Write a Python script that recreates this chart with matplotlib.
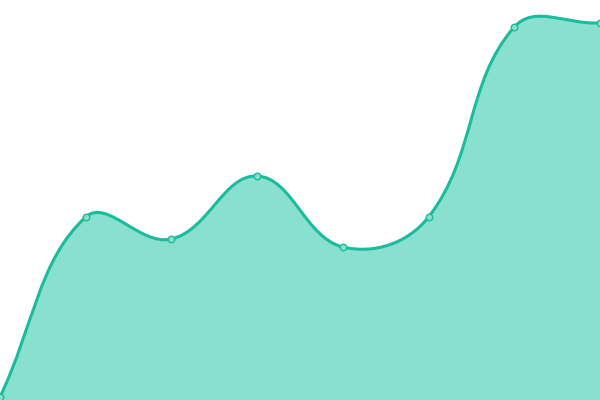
import numpy as np
import matplotlib
matplotlib.use("Agg")
import matplotlib.pyplot as plt
from matplotlib.path import Path
from matplotlib.patches import PathPatch

labels = ["A", "B", "C", "D", "E", "F", "G", "H"]
values = [3, 183, 161, 224, 153, 183, 373, 377]

line_color = "#1abc9c"
fill_color = "#8ae0cf"

W, H = 600, 400
tension = 0.4

# pixel-space points for control point math
n = len(values)
xs = np.arange(n) * W / (n - 1)
ys = np.array(values, dtype=float)


def spline_ctrl(i):
    # chart.js style cardinal spline control points
    p = np.array([xs[i], ys[i]])
    prev = np.array([xs[max(i - 1, 0)], ys[max(i - 1, 0)]])
    nxt = np.array([xs[min(i + 1, n - 1)], ys[min(i + 1, n - 1)]])
    d01 = np.hypot(*(p - prev))
    d12 = np.hypot(*(nxt - p))
    s01 = d01 / (d01 + d12) if d01 + d12 else 0
    s12 = d12 / (d01 + d12) if d01 + d12 else 0
    fa = tension * s01
    fb = tension * s12
    c_prev = p - fa * (nxt - prev)
    c_next = p + fb * (nxt - prev)
    return c_prev, c_next


ctrls = [spline_ctrl(i) for i in range(n)]

verts = [(xs[0], ys[0])]
codes = [Path.MOVETO]
for i in range(n - 1):
    c1 = np.clip(ctrls[i][1], [0, 0], [W, H])
    c2 = np.clip(ctrls[i + 1][0], [0, 0], [W, H])
    verts += [tuple(c1), tuple(c2), (xs[i + 1], ys[i + 1])]
    codes += [Path.CURVE4] * 3

fig = plt.figure(figsize=(6, 4), dpi=100)
ax = fig.add_axes([0, 0, 1, 1])
ax.set_xlim(0, W)
ax.set_ylim(0, H)
ax.axis("off")

fill_verts = verts + [(xs[-1], 0), (xs[0], 0), (xs[0], ys[0])]
fill_codes = codes + [Path.LINETO, Path.LINETO, Path.CLOSEPOLY]
ax.add_patch(PathPatch(Path(fill_verts, fill_codes), facecolor=fill_color,
                       edgecolor="none", zorder=1))
ax.add_patch(PathPatch(Path(verts, codes), facecolor="none",
                       edgecolor=line_color, lw=2.2, zorder=2))
ax.scatter(xs, ys, s=22, facecolor="#8ae0cf", edgecolor=line_color,
           linewidth=1, zorder=3, clip_on=False)

fig.savefig("out.png", dpi=100)
